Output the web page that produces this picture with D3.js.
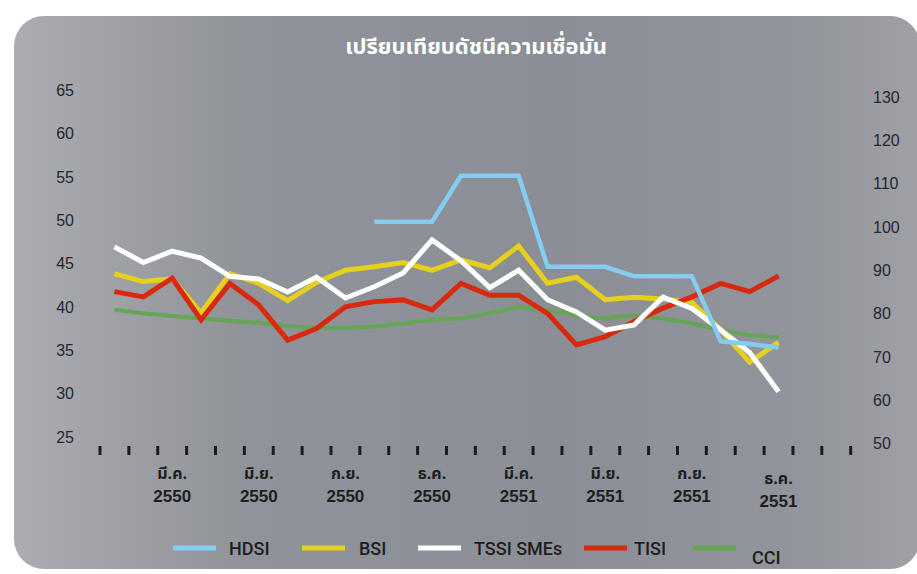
<!DOCTYPE html>
<html>
<head>
<meta charset="utf-8">
<script src="https://cdn.jsdelivr.net/npm/d3@7"></script>
<style>
  body { margin: 0; background: #fff; }
  svg { display: block; }
</style>
</head>
<body>
<div id="chart"></div>
<script>
// months on the x axis (Jan 2550 .. Feb 2552), data runs to Dec 2551
const months = ["ม.ค. 2550", "ก.พ. 2550", "มี.ค. 2550", "เม.ย. 2550", "พ.ค. 2550", "มิ.ย. 2550",
    "ก.ค. 2550", "ส.ค. 2550", "ก.ย. 2550", "ต.ค. 2550", "พ.ย. 2550", "ธ.ค. 2550",
    "ม.ค. 2551", "ก.พ. 2551", "มี.ค. 2551", "เม.ย. 2551", "พ.ค. 2551", "มิ.ย. 2551",
    "ก.ค. 2551", "ส.ค. 2551", "ก.ย. 2551", "ต.ค. 2551", "พ.ย. 2551", "ธ.ค. 2551",
    "ม.ค. 2552", "ก.พ. 2552"]
const labelled = ["มี.ค. 2550", "มิ.ย. 2550", "ก.ย. 2550", "ธ.ค. 2550",
    "มี.ค. 2551", "มิ.ย. 2551", "ก.ย. 2551", "ธ.ค. 2551"]

const leftTicks = [25, 30, 35, 40, 45, 50, 55, 60, 65]
const rightTicks = [50, 60, 70, 80, 90, 100, 110, 120, 130]

// left axis series
const hdsi = [null, null, null, null, null, null, null, null, null, 49.8, 49.8, 49.8,
    55.1, 55.1, 55.1, 44.6, 44.6, 44.6, 43.5, 43.5, 43.5, 36.0, 35.7, 35.3]
const bsi = [43.8, 42.9, 43.2, 39.3, 43.8, 42.7, 40.7, 42.8, 44.2, 44.6, 45.1, 44.2,
    45.4, 44.5, 47.0, 42.7, 43.4, 40.8, 41.1, 40.9, 40.5, 37.3, 33.6, 35.9]
const tssi = [46.9, 45.1, 46.4, 45.6, 43.5, 43.2, 41.7, 43.4, 41.0, 42.3, 43.9, 47.7,
    45.3, 42.2, 44.2, 40.8, 39.4, 37.3, 37.9, 41.1, 39.8, 37.3, 34.7, 30.2]
// right axis series
const tisi = [85.0, 83.8, 88.1, 78.5, 86.9, 81.9, 73.8, 76.5, 81.5, 82.7, 83.1, 80.8,
    86.9, 84.2, 84.2, 80.0, 72.7, 74.6, 78.1, 81.2, 83.8, 86.9, 85.0, 88.6]
const cci = [80.8, 80.0, 79.4, 78.8, 78.3, 77.8, 77.1, 76.6, 76.6, 76.9, 77.7, 78.5,
    78.8, 80.0, 81.5, 80.8, 79.6, 78.8, 79.6, 78.8, 77.7, 76.1, 75.0, 74.5]

const width = 917, height = 574

const svg = d3.select("#chart").append("svg")
    .attr("width", width)
    .attr("height", height)

// background panel with a soft gradient
const defs = svg.append("defs")
const grad = defs.append("linearGradient").attr("id", "panelGrad")
    .attr("x1", "0%").attr("x2", "100%").attr("y1", "0%").attr("y2", "0%")
grad.append("stop").attr("offset", "0%").attr("stop-color", "#abadb2")
grad.append("stop").attr("offset", "9%").attr("stop-color", "#a1a3a8")
grad.append("stop").attr("offset", "25%").attr("stop-color", "#909399")
grad.append("stop").attr("offset", "60%").attr("stop-color", "#8b8e95")
grad.append("stop").attr("offset", "88%").attr("stop-color", "#92959b")
grad.append("stop").attr("offset", "100%").attr("stop-color", "#9fa1a6")

svg.append("rect")
    .attr("x", 14).attr("y", 16)
    .attr("width", 906).attr("height", 553)
    .attr("rx", 30)
    .attr("fill", "url(#panelGrad)")

svg.append("text")
    .attr("x", 476).attr("y", 54)
    .attr("text-anchor", "middle")
    .attr("fill", "#fff")
    .style("font-family", "'Noto Sans Thai', 'Noto Sans', 'DejaVu Sans', sans-serif")
    .style("font-size", "22px")
    .style("font-weight", "bold")
    .text("เปรียบเทียบดัชนีความเชื่อมั่น")

// scales
const x = d3.scaleBand().domain(months).range([100, 850.7]).padding(0)
const yLeft = d3.scaleLinear().domain([25, 65]).range([436.7, 90])
const yRight = d3.scaleLinear().domain([50, 130]).range([443.3, 96.7])
const cx = (i) => x(months[i]) + x.bandwidth() / 2

// y axis labels
const axisFont = "'Liberation Sans', Arial, sans-serif"
svg.append("g").selectAll("text")
    .data(leftTicks).enter().append("text")
    .attr("x", 74).attr("y", d => yLeft(d) + 6)
    .attr("text-anchor", "end")
    .attr("fill", "#27272a")
    .style("font-family", axisFont)
    .style("font-size", "16px")
    .text(d => d)

svg.append("g").selectAll("text")
    .data(rightTicks).enter().append("text")
    .attr("x", 873).attr("y", d => yRight(d) + 6)
    .attr("text-anchor", "start")
    .attr("fill", "#27272a")
    .style("font-family", axisFont)
    .style("font-size", "16px")
    .text(d => d)

// x tick marks at band edges
const edges = months.map(m => x(m)).concat([x.range()[1]])
svg.append("g").selectAll("rect")
    .data(edges).enter().append("rect")
    .attr("x", d => d - 1.5).attr("y", 446)
    .attr("width", 3).attr("height", 9)
    .attr("fill", "#1c1c1e")

// month labels: Thai month on one text, year on another
const lastDy = (i) => i == labelled.length - 1 ? 5 : 0
const xg = svg.append("g")
xg.selectAll("text.mon")
    .data(labelled).enter().append("text")
    .attr("class", "mon")
    .attr("x", d => x(d) + x.bandwidth() / 2)
    .attr("y", (d, i) => 479 + lastDy(i))
    .attr("text-anchor", "middle")
    .attr("fill", "#1e1e20")
    .style("font-family", "'Noto Sans Thai', 'DejaVu Sans', sans-serif")
    .style("font-size", "16px")
    .style("font-weight", "bold")
    .text(d => d.split(" ")[0])
xg.selectAll("text.yr")
    .data(labelled).enter().append("text")
    .attr("class", "yr")
    .attr("x", d => x(d) + x.bandwidth() / 2)
    .attr("y", (d, i) => 502 + lastDy(i))
    .attr("text-anchor", "middle")
    .attr("fill", "#1e1e20")
    .style("font-family", "'Liberation Sans', Arial, sans-serif")
    .style("font-size", "17px")
    .style("font-weight", "bold")
    .text(d => d.split(" ")[1])

// series lines
const series = [
    { name: "CCI", values: cci, y: yRight, color: "#66a456", w: 4 },
    { name: "BSI", values: bsi, y: yLeft, color: "#e5d01e", w: 5 },
    { name: "TISI", values: tisi, y: yRight, color: "#d8290f", w: 5 },
    { name: "TSSI SMEs", values: tssi, y: yLeft, color: "#ffffff", w: 5 },
    { name: "HDSI", values: hdsi, y: yLeft, color: "#84cdf0", w: 4.5 }
]

series.forEach(s => {
    const line = d3.line()
        .defined(d => d != null)
        .x((d, i) => cx(i))
        .y(d => s.y(d))
    svg.append("path")
        .datum(s.values)
        .attr("fill", "none")
        .attr("stroke", s.color)
        .attr("stroke-width", s.w)
        .attr("stroke-linejoin", "miter")
        .attr("d", line)
})

// legend
const legendItems = [
    { name: "HDSI", color: "#84cdf0", x: 173, tx: 229, dy: 0 },
    { name: "BSI", color: "#e5d01e", x: 302, tx: 359, dy: 0 },
    { name: "TSSI SMEs", color: "#ffffff", x: 418, tx: 474, dy: 0 },
    { name: "TISI", color: "#d8290f", x: 584, tx: 634, dy: 0 },
    { name: "CCI", color: "#66a456", x: 693, tx: 752, dy: 9 }
]
const lg = svg.append("g").selectAll("g")
    .data(legendItems).enter().append("g")
lg.append("line")
    .attr("x1", d => d.x).attr("x2", d => d.x + 43)
    .attr("y1", 548).attr("y2", 548)
    .attr("stroke", d => d.color)
    .attr("stroke-width", 5)
lg.append("text")
    .attr("x", d => d.tx).attr("y", d => 555 + d.dy)
    .attr("fill", "#1e1e20")
    .style("font-family", "Roboto, 'Liberation Sans', sans-serif")
    .style("font-size", "18px")
    .style("font-weight", "500")
    .text(d => d.name)
</script>
</body>
</html>
